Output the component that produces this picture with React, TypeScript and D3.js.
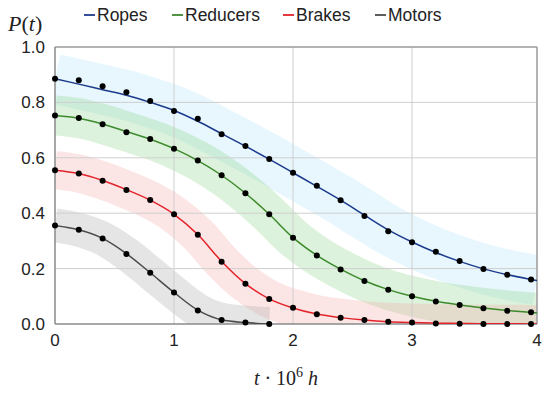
import React from 'react';
import * as d3 from 'd3';

// time grid (10^6 h)
const T = [0, 0.2, 0.4, 0.6, 0.8, 1.0, 1.2, 1.4, 1.6, 1.8, 2.0, 2.2, 2.4, 2.6, 2.8, 3.0, 3.2, 3.4, 3.6, 3.8, 4.0];
const T_LINE = [0, 0.2, 0.4, 0.6, 0.8, 1.0, 1.2, 1.4, 1.6, 1.8, 2.0, 2.2, 2.4, 2.6, 2.8, 3.0, 3.2, 3.4, 3.6, 3.8, 4.0, 4.05];

// observed points
const ROPES_PTS = [0.885, 0.880, 0.858, 0.837, 0.805, 0.769, 0.741, 0.685, 0.643, 0.596, 0.546, 0.499, 0.447, 0.390, 0.335, 0.295, 0.261, 0.227, 0.199, 0.178, 0.161];
const REDUCERS_PTS = [0.753, 0.744, 0.721, 0.692, 0.668, 0.633, 0.590, 0.537, 0.472, 0.396, 0.311, 0.247, 0.197, 0.155, 0.124, 0.100, 0.081, 0.069, 0.057, 0.048, 0.042];
const BRAKES_PTS = [0.555, 0.543, 0.517, 0.484, 0.448, 0.396, 0.322, 0.225, 0.145, 0.090, 0.059, 0.035, 0.023, 0.014, 0.008, 0.005, 0.002, 0.001, 0.0, 0.0, 0.0];
const MOTORS_PTS = [0.356, 0.340, 0.309, 0.253, 0.185, 0.114, 0.049, 0.014, 0.005, 0.0];

// fitted curves
const ROPES_FIT = [0.885, 0.866, 0.846, 0.826, 0.800, 0.771, 0.732, 0.687, 0.642, 0.595, 0.546, 0.497, 0.447, 0.393, 0.340, 0.296, 0.258, 0.226, 0.199, 0.178, 0.161, 0.157];
const REDUCERS_FIT = [0.753, 0.743, 0.722, 0.695, 0.667, 0.633, 0.590, 0.537, 0.472, 0.396, 0.312, 0.248, 0.198, 0.156, 0.124, 0.100, 0.082, 0.069, 0.058, 0.049, 0.042, 0.040];
const BRAKES_FIT = [0.555, 0.543, 0.518, 0.485, 0.447, 0.396, 0.323, 0.226, 0.146, 0.091, 0.058, 0.036, 0.023, 0.014, 0.008, 0.005, 0.003, 0.002, 0.001, 0.001, 0.0, 0.0];
const MOTORS_FIT = [0.356, 0.340, 0.309, 0.254, 0.185, 0.114, 0.050, 0.015, 0.005, 0.0];

const SERIES_NAMES = ['Ropes', 'Reducers', 'Brakes', 'Motors'];
const Y_TICKS = [0, 0.2, 0.4, 0.6, 0.8, 1.0];
const X_TICKS = [0, 1, 2, 3, 4];
const X_MAX = 4.05;

const LINE_COLORS = ['#1c3a8c', '#3d8a2c', '#e3232a', '#4a4a4a'];
const BAND_COLORS = ['#a9e2f8', '#8fd48a', '#f5a3a3', '#a8a8a8'];
const BAND_OPACITY = [0.28, 0.3, 0.28, 0.3];
const BAND_WIDTH = [50, 40, 38, 34];

export default function App() {
  const W = 550, H = 395;
  const left = 55, right = 537, top = 47, bottom = 324;
  const x = d3.scaleLinear().domain([0, X_MAX]).range([left, right]);
  const y = d3.scaleLinear().domain([0, 1]).range([bottom, top]);

  const fits = [ROPES_FIT, REDUCERS_FIT, BRAKES_FIT, MOTORS_FIT];
  const pts = [ROPES_PTS, REDUCERS_PTS, BRAKES_PTS, MOTORS_PTS];

  const line = d3.line<[number, number]>()
    .x(d => x(d[0]))
    .y(d => y(d[1]))
    .curve(d3.curveMonotoneX);

  const fitPaths = fits.map(f => line(f.map((v, i) => [T_LINE[i], v] as [number, number])) || '');

  const legendX = [84, 172, 283, 375];

  return (
    <svg width={W} height={H} style={{ position: 'absolute', left: 0, top: 0, background: '#fff' }}
      fontFamily="'Liberation Sans', Arial, sans-serif">
      <defs>
        <clipPath id="plot">
          <rect x={left} y={top} width={right - left} height={bottom - top} />
        </clipPath>
      </defs>
      <rect x={0} y={0} width={W} height={H} fill="#fff" />
      {/* bands */}
      <g clipPath="url(#plot)">
        {fitPaths.map((p, i) => (
          <path key={'b' + i} d={p} fill="none" stroke={BAND_COLORS[i]} strokeOpacity={BAND_OPACITY[i]}
            strokeWidth={BAND_WIDTH[i]} strokeLinejoin="round" strokeLinecap="butt" />
        ))}
      </g>
      {/* grid */}
      <g>
        {Y_TICKS.filter(t => t > 0 && t < 1).map(t => (
          <line key={'gy' + t} x1={left} x2={right} y1={y(t)} y2={y(t)} stroke="#cfcfcf" strokeWidth={1} />
        ))}
        {X_TICKS.filter(t => t > 0 && t < 4).map(t => (
          <line key={'gx' + t} x1={x(t)} x2={x(t)} y1={top} y2={bottom} stroke="#cfcfcf" strokeWidth={1} />
        ))}
      </g>
      {/* frame */}
      <line x1={left} x2={right} y1={top} y2={top} stroke="#9a9a9a" strokeWidth={1.5} />
      <line x1={right} x2={right} y1={top} y2={bottom} stroke="#9a9a9a" strokeWidth={1.5} />
      <line x1={left} x2={left} y1={top} y2={bottom} stroke="#8a8a8a" strokeWidth={1.5} />
      <line x1={left} x2={right} y1={bottom} y2={bottom} stroke="#8a8a8a" strokeWidth={1.5} />
      {/* fitted lines */}
      <g clipPath="url(#plot)">
        {fitPaths.map((p, i) => (
          <path key={'l' + i} d={p} fill="none" stroke={LINE_COLORS[i]} strokeWidth={1.5} />
        ))}
      </g>
      {/* points */}
      <g>
        {pts.map((arr, si) => arr.map((v, i) => (
          <circle key={si + '-' + i} cx={x(T[i])} cy={y(v)} r={3} fill="#000" />
        )))}
      </g>
      {/* y tick labels */}
      {Y_TICKS.map(t => (
        <text key={'yt' + t} x={45} y={y(t)} dy="0.35em" textAnchor="end" fontSize={17} fill="#222">
          {d3.format('.1f')(t)}
        </text>
      ))}
      {/* x tick labels */}
      {X_TICKS.map(t => (
        <text key={'xt' + t} x={t === 4 ? right : x(t)} y={346} textAnchor="middle" fontSize={17} fill="#222">
          {t}
        </text>
      ))}
      {/* axis titles */}
      <text x={8} y={31} fontFamily="'Liberation Serif', 'DejaVu Serif', serif" fontSize={22} fill="#222">
        <tspan fontStyle="italic">P</tspan>(<tspan fontStyle="italic">t</tspan>)
      </text>
      <text x={286} y={385} textAnchor="middle" fontFamily="'Liberation Serif', 'DejaVu Serif', serif" fontSize={20} fill="#222">
        <tspan fontStyle="italic">t</tspan>
        <tspan> · 10</tspan>
        <tspan fontSize={14} dy={-8}>6</tspan>
        <tspan dy={8} fontStyle="italic"> h</tspan>
      </text>
      {/* legend */}
      {SERIES_NAMES.map((name, i) => (
        <g key={'lg' + i} transform={`translate(${legendX[i]},15)`}>
          <line x1={0} x2={11} y1={0} y2={0} stroke={LINE_COLORS[i]} strokeWidth={1.8} />
          <text x={13} y={0} dy="0.35em" fontSize={17.5} fill="#222">{name}</text>
        </g>
      ))}
    </svg>
  );
}
